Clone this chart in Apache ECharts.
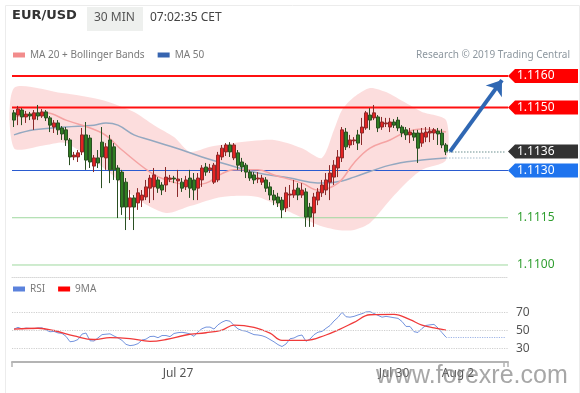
<!DOCTYPE html>
<html><head><meta charset="utf-8">
<script src="https://cdn.jsdelivr.net/npm/echarts@6/dist/echarts.min.js"></script>
<style>html,body{margin:0;padding:0;background:#fff}#c{width:580px;height:393px}</style>
</head><body><div id="c"></div>
<script>
// ---------- DATA ----------
const slotCount = 124; // candle slots on the time axis (incl. empty future space)
const candleOpen = [1.11483,1.11476,1.11492,1.11470,1.11479,1.11463,1.11483,1.11473,1.11486,1.11467,
1.11438,1.11451,1.11435,1.11429,1.11397,1.11343,1.11343,1.11359,1.11413,1.11403,
1.11314,1.11340,1.11390,1.11340,1.11397,1.11375,1.11308,1.11295,1.11263,1.11184,
1.11213,1.11197,1.11206,1.11216,1.11244,1.11248,1.11270,1.11254,1.11254,1.11272,
1.11276,1.11267,1.11263,1.11248,1.11276,1.11270,1.11244,1.11270,1.11311,1.11302,
1.11263,1.11270,1.11343,1.11359,1.11381,1.11340,1.11356,1.11327,1.11317,1.11295,
1.11286,1.11273,1.11263,1.11270,1.11248,1.11222,1.11216,1.11206,1.11181,1.11222,
1.11222,1.11244,1.11222,1.11232,1.11184,1.11165,1.11206,1.11229,1.11238,1.11263,
1.11279,1.11308,1.11340,1.11422,1.11381,1.11394,1.11413,1.11419,1.11435,1.11476,
1.11467,1.11470,1.11438,1.11448,1.11438,1.11454,1.11460,1.11438,1.11429,1.11413,
1.11419,1.11419,1.11387,1.11406,1.11419,1.11419,1.11425,1.11419,1.11381];
const candleClose = [1.11460,1.11495,1.11470,1.11479,1.11473,1.11483,1.11473,1.11486,1.11467,1.11444,
1.11451,1.11429,1.11416,1.11397,1.11343,1.11349,1.11356,1.11413,1.11333,1.11327,
1.11340,1.11324,1.11343,1.11375,1.11302,1.11302,1.11270,1.11184,1.11184,1.11213,
1.11184,1.11229,1.11222,1.11248,1.11276,1.11286,1.11244,1.11238,1.11279,1.11276,
1.11273,1.11273,1.11244,1.11270,1.11244,1.11238,1.11276,1.11308,1.11295,1.11308,
1.11317,1.11349,1.11371,1.11381,1.11359,1.11381,1.11317,1.11311,1.11295,1.11276,
1.11270,1.11276,1.11276,1.11244,1.11222,1.11206,1.11197,1.11175,1.11229,1.11225,
1.11238,1.11222,1.11238,1.11152,1.11152,1.11216,1.11232,1.11254,1.11270,1.11292,
1.11317,1.11343,1.11429,1.11375,1.11397,1.11397,1.11387,1.11438,1.11483,1.11460,
1.11483,1.11435,1.11454,1.11451,1.11454,1.11444,1.11435,1.11419,1.11413,1.11422,
1.11406,1.11371,1.11419,1.11422,1.11425,1.11429,1.11416,1.11381,1.11359];
const candleLow = [1.11438,1.11444,1.11444,1.11451,1.11460,1.11429,1.11460,1.11467,1.11457,1.11422,
1.11419,1.11413,1.11397,1.11378,1.11317,1.11333,1.11327,1.11349,1.11302,1.11308,
1.11295,1.11308,1.11244,1.11302,1.11260,1.11270,1.11149,1.11159,1.11111,1.11143,
1.11111,1.11175,1.11184,1.11206,1.11197,1.11206,1.11229,1.11222,1.11232,1.11263,
1.11260,1.11216,1.11232,1.11238,1.11213,1.11206,1.11206,1.11248,1.11283,1.11292,
1.11257,1.11263,1.11333,1.11346,1.11343,1.11333,1.11302,1.11295,1.11276,1.11267,
1.11257,1.11260,1.11254,1.11232,1.11206,1.11190,1.11184,1.11149,1.11168,1.11184,
1.11213,1.11206,1.11213,1.11121,1.11121,1.11121,1.11190,1.11216,1.11222,1.11206,
1.11254,1.11279,1.11327,1.11365,1.11371,1.11381,1.11365,1.11381,1.11429,1.11429,
1.11460,1.11422,1.11429,1.11438,1.11422,1.11435,1.11425,1.11406,1.11397,1.11387,
1.11394,1.11324,1.11375,1.11390,1.11390,1.11397,1.11381,1.11371,1.11349];
const candleHigh = [1.11492,1.11505,1.11498,1.11489,1.11486,1.11492,1.11508,1.11495,1.11492,1.11473,
1.11460,1.11460,1.11441,1.11438,1.11403,1.11359,1.11365,1.11435,1.11454,1.11413,
1.11349,1.11365,1.11438,1.11387,1.11413,1.11387,1.11317,1.11302,1.11276,1.11238,
1.11222,1.11244,1.11238,1.11270,1.11286,1.11308,1.11279,1.11263,1.11311,1.11286,
1.11283,1.11302,1.11276,1.11283,1.11302,1.11292,1.11292,1.11317,1.11324,1.11321,
1.11324,1.11359,1.11381,1.11387,1.11390,1.11387,1.11365,1.11340,1.11324,1.11302,
1.11295,1.11295,1.11286,1.11279,1.11263,1.11238,1.11229,1.11216,1.11248,1.11254,
1.11270,1.11260,1.11260,1.11244,1.11197,1.11229,1.11244,1.11270,1.11292,1.11317,
1.11333,1.11365,1.11438,1.11435,1.11413,1.11406,1.11429,1.11467,1.11489,1.11498,
1.11508,1.11476,1.11470,1.11467,1.11467,1.11463,1.11470,1.11444,1.11438,1.11435,
1.11429,1.11429,1.11435,1.11438,1.11438,1.11435,1.11435,1.11432,1.11387];

// [slot, value] readings
const ma20Points = [[0,1.11470],[8,1.11483],[13,1.11460],[22,1.11419],[27,1.11365],[34,1.11295],[38,1.11270],[44,1.11254],[48,1.11260],[52,1.11290],[55,1.11302],[61,1.11302],[65,1.11286],[72,1.11260],[76,1.11238],[81,1.11260],[85,1.11324],[89,1.11371],[94,1.11397],[98,1.11422],[102,1.11432],[108,1.11422]];
const ma50Points = [[0,1.11413],[5,1.11429],[13,1.11438],[20,1.11444],[23,1.11451],[26,1.11444],[30,1.11413],[34,1.11397],[38,1.11381],[42,1.11365],[47,1.11343],[52,1.11324],[61,1.11292],[69,1.11276],[74,1.11263],[78,1.11260],[82,1.11267],[85,1.11279],[94,1.11317],[102,1.11333],[108,1.11340]];
const bbUpper = [[0,1.11562],[12,1.11546],[22,1.11524],[30,1.11486],[35,1.11444],[40,1.11406],[44,1.11359],[49,1.11375],[55,1.11387],[65,1.11397],[72,1.11371],[77,1.11340],[80,1.11429],[82,1.11492],[85,1.11533],[89,1.11562],[93,1.11549],[98,1.11514],[102,1.11486],[108,1.11460]];
const bbLower = [[0,1.11371],[8,1.11381],[13,1.11387],[24,1.11292],[30,1.11216],[38,1.11165],[44,1.11187],[52,1.11216],[61,1.11216],[69,1.11168],[76,1.11127],[81,1.11111],[85,1.11111],[89,1.11133],[94,1.11206],[98,1.11260],[102,1.11302],[108,1.11333]];

const rsiValues = [51.6,53.5,51.8,52.7,52.3,52.1,52.8,53,50.5,48.6,
49,47.3,46.8,43.5,37.5,38.1,40,46,47.2,38.6,
38.3,41.8,45.4,45.9,46.3,43.9,41.8,39,34.6,33.2,
33.8,35.4,39.4,40.4,43.3,43.6,42,44.4,44.4,43.2,
46.7,47.6,48,47.3,46.2,43.5,48.6,52,53.8,53.8,
51.6,56.3,59.3,61.2,60.3,55.6,51.8,50,49.3,47.3,
45.4,45,44.2,42.6,40,37.4,34.3,32.2,35,40.8,
41.7,44,45,38,40.5,45.3,48.1,49,52.4,55.5,
60.6,64.6,70.2,65.3,64.8,65.7,67.3,68.7,70.6,70.9,
68.9,66.8,64.8,65.7,65,64.2,63.5,60,54.5,54.5,
48.7,47.8,52.3,55.6,56.3,56.8,52.8,47.6,42.6];
const rsiMaPoints = [[0,51.5],[6,52.5],[10,50],[15,44],[20,40],[24,42],[29,41],[34,38],[38,40],[43,45],[48,47.5],[52,50.5],[55,56],[60,53.5],[64,47],[67,39],[73,39],[78,45],[81,50.5],[85,59],[89,67.5],[95,68],[99,62],[102,56],[105,53],[108,50.5]];
const rsiLevels = [70, 50, 30];

const levelValues = [1.1160, 1.1150, 1.1136, 1.1130, 1.1115, 1.1100];
const levelLabels = ['1.1160','1.1150','1.1136','1.1130','1.1115','1.1100'];
const lastClose = 1.1136;
const ma50Last = 1.11340;
const rsiLast = 42.6;
const arrowStart = [109, 1.1136];
const arrowEnd = [122, 1.11587];

const dateLabels = ['Jul 27', 'Jul 30', 'Aug 2'];
const dateLabelSlots = [41, 95, 111];

// ---------- STYLES ----------
const levelLine = [
  {stroke:'#ff1010', lineWidth:2},
  {stroke:'#ff1010', lineWidth:2},
  null,
  {stroke:'#2a5bd0', lineWidth:1.2},
  {stroke:'#9fd89f', lineWidth:1},
  {stroke:'#9fd89f', lineWidth:1}
];
const levelTag = [
  {box:'#ff0000', text:'#ffffff'},
  {box:'#ff0000', text:'#ffffff'},
  {box:'#333333', text:'#ffffff'},
  {box:'#1f74ee', text:'#ffffff'},
  {box:null, text:'#2f9e2f'},
  {box:null, text:'#2f9e2f'}
];
const FONT = '"Noto Sans", "DejaVu Sans", sans-serif';

const categories = Array.from({length: slotCount}, (_, i) => 'b' + i);
const candleData = candleOpen.map((o, i) => [o, candleClose[i], candleLow[i], candleHigh[i]]);
const levelData = levelValues.map((v, i) => [0, v, i]);

const extraMarks = [
  [{coord:[108, lastClose], lineStyle:{color:'#9db5b5', width:1.5, type:'dotted'}}, {coord:[slotCount-1, lastClose]}],
  [{coord:[108, ma50Last], lineStyle:{color:'#c4d2dc', width:1.5, type:'dotted'}}, {coord:[slotCount-5, ma50Last]}],
  [{coord:arrowStart, symbol:'none', lineStyle:{color:'#2f67b3', width:4, type:'solid'}}, {coord:arrowEnd, symbol:'arrow', symbolSize:[15,14]}]
];

const chart = echarts.init(document.getElementById('c'), null, {renderer:'canvas'});
chart.setOption({
  animation: false,
  backgroundColor: '#ffffff',
  textStyle: {fontFamily: FONT},
  legend: [
    {data:['MA 20 + Bollinger Bands','MA 50'], left: 8, top: 45, icon:'rect', itemWidth: 12, itemHeight: 5, itemGap: 13,
     textStyle:{fontSize:10, color:'#7a7a7a', fontFamily: FONT}, selectedMode:false},
    {data:['RSI','9MA'], left: 8, top: 279, icon:'rect', itemWidth: 12, itemHeight: 5, itemGap: 13,
     textStyle:{fontSize:10, color:'#7a7a7a', fontFamily: FONT}, selectedMode:false}
  ],
  grid: [
    {left: 12, width: 496, top: 60.25, height: 216.75},
    {left: 12, width: 496, top: 299, height: 63}
  ],
  xAxis: [
    {type:'category', gridIndex:0, data: categories, boundaryGap:true,
     axisLine:{show:true, lineStyle:{color:'#d8d8d8', type:'dotted', width:1}}, axisTick:{show:false}, axisLabel:{show:false}, splitLine:{show:false}},
    {type:'category', gridIndex:1, data: categories, boundaryGap:true,
     axisLine:{show:true, lineStyle:{color:'#b4b4b4', width:2}},
     axisTick:{show:true, interval:(i) => i === 0 || i === slotCount - 1, length:5, lineStyle:{color:'#b4b4b4', width:1.5}},
     axisLabel:{show:true, interval:(i) => dateLabelSlots.indexOf(i) >= 0, formatter:(v, i) => dateLabels[dateLabelSlots.indexOf(i)] || '',
       color:'#555', fontSize:12, margin:6, fontFamily: FONT},
     splitLine:{show:false}}
  ],
  yAxis: [
    {type:'value', gridIndex:0, min:1.109619, max:1.1165, show:false, splitLine:{show:false}},
    {type:'value', gridIndex:1, min:15, max:85, show:false, splitLine:{show:false}}
  ],
  series: [
    {
      type:'custom', name:'bands', xAxisIndex:0, yAxisIndex:0, z:1, silent:true,
      data:[[0, bbUpper[0][1]]],
      renderItem: function(params, api) {
        const up = bbUpper.map(p => api.coord(p));
        const lo = bbLower.map(p => api.coord(p)).reverse();
        return {type:'polygon', shape:{points: up.concat(lo), smooth: 0.25}, style:{fill:'rgba(248,160,160,0.36)'}};
      }
    },
    {
      type:'custom', name:'levels', xAxisIndex:0, yAxisIndex:0, z:2, silent:true, clip:false,
      data: levelData,
      renderItem: function(params, api) {
        const i = api.value(2);
        const st = levelLine[i];
        if (!st) return null;
        const y = api.coord([0, api.value(1)])[1];
        const x1 = params.coordSys.x, x2 = params.coordSys.x + params.coordSys.width;
        return {type:'line', shape:{x1:x1, y1:y, x2:x2, y2:y}, style:{stroke: st.stroke, lineWidth: st.lineWidth}};
      }
    },
    {
      type:'line', name:'MA 50', xAxisIndex:0, yAxisIndex:0, data: ma50Points, smooth:0.4, showSymbol:false, z:3,
      lineStyle:{color:'#94a8c0', width:1.5}, itemStyle:{color:'#3765b0'}
    },
    {
      type:'line', name:'MA 20 + Bollinger Bands', xAxisIndex:0, yAxisIndex:0, data: ma20Points, smooth:0.4, showSymbol:false, z:3,
      lineStyle:{color:'#f5a3a3', width:1.5}, itemStyle:{color:'#f28c8c'}
    },
    {
      type:'candlestick', name:'EUR/USD', xAxisIndex:0, yAxisIndex:0, data: candleData, barWidth: 3, z:4,
      itemStyle:{color:'#e52222', color0:'#2f7d22', borderColor:'#8a2a2a', borderColor0:'#2a4f22', borderWidth:1},
      markLine:{silent:true, symbol:['none','none'], label:{show:false}, animation:false, data: extraMarks}
    },
    {
      type:'custom', name:'tags', xAxisIndex:0, yAxisIndex:0, z:5, silent:true, clip:false,
      data: levelData,
      renderItem: function(params, api) {
        const i = api.value(2);
        const y = api.coord([0, api.value(1)])[1];
        const x0 = params.coordSys.x + params.coordSys.width;
        const st = levelTag[i];
        const children = [];
        if (st.box) {
          children.push({type:'polygon', shape:{points:[[x0, y],[x0+7, y-7],[x0+70, y-7],[x0+70, y+7],[x0+7, y+7]]}, style:{fill: st.box}});
        }
        children.push({type:'text', x: x0 + 9, y: y, style:{text: levelLabels[i], fill: st.text, font: '12px ' + FONT, verticalAlign:'middle', align:'left'}});
        return {type:'group', children: children};
      }
    },
    {
      type:'line', name:'RSI', xAxisIndex:1, yAxisIndex:1, data: rsiValues, showSymbol:false, z:3,
      lineStyle:{color:'#7393de', width:1}, itemStyle:{color:'#5b82dc'},
      markLine:{silent:true, symbol:['none','none'], animation:false,
        label:{show:true, position:'end', distance:8, color:'#555', fontSize:12, fontFamily: FONT, formatter: (p) => p.value},
        data: rsiLevels.map(v => ({yAxis: v, lineStyle:{color:'#cfcfcf', type:'dotted', width:1.2}})).concat([
          [{coord:[108, rsiLast], label:{show:false}, lineStyle:{color:'#9fb5e6', type:'dotted', width:1.2}}, {coord:[slotCount-1, rsiLast]}]
        ])}
    },
    {
      type:'line', name:'9MA', xAxisIndex:1, yAxisIndex:1, data: rsiMaPoints, smooth:0.4, showSymbol:false, z:4,
      lineStyle:{color:'#f03a3a', width:1.3}, itemStyle:{color:'#ff0000'}
    }
  ],
  graphic: [
    {type:'rect', left:3, top:3, shape:{width:574, height:389}, style:{fill:null, stroke:'#ececec', lineWidth:1}, z:-1},
    {type:'text', left:12, top:9, style:{text:'EUR/USD', font:'bold 13px "DejaVu Sans", sans-serif', fill:'#333'}},
    {type:'rect', left:87, top:7, shape:{width:56, height:24}, style:{fill:'#eef0ee'}},
    {type:'text', left:94, top:12, style:{text:'30 MIN', font:'12px ' + FONT, fill:'#555'}},
    {type:'text', left:150, top:12, style:{text:'07:02:35 CET', font:'12px ' + FONT, fill:'#444'}},
    {type:'text', right:10, top:50, style:{text:'Research \u00a9 2019 Trading Central', font:'10px ' + FONT, fill:'#8d979f'}},
    {type:'text', left:376, top:364, z:100, style:{text:'www.forexre.com', font:'25px "Liberation Sans", Arial, sans-serif', fill:'rgba(130,130,130,0.7)'}}
  ]
});
</script>
</body></html>
